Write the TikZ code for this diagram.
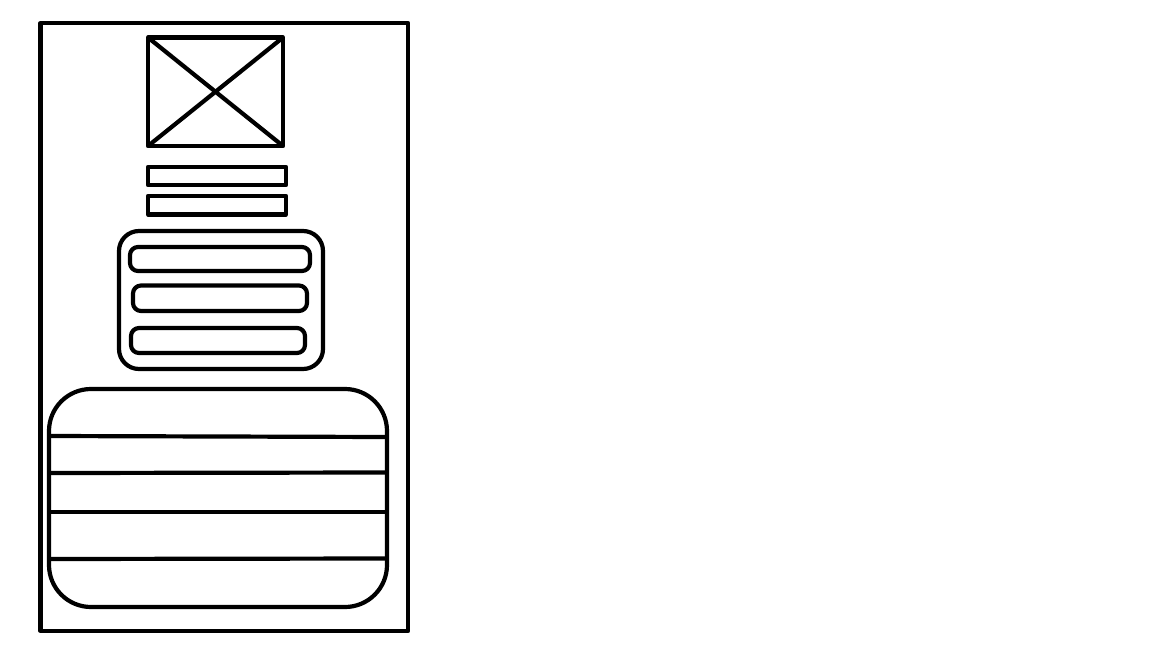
\documentclass[tikz,border=0pt]{standalone}
\begin{document}
\begin{tikzpicture}[x=1pt,y=-1pt,line width=4pt,
  sketch/.style={draw=black,line width=4.2pt,line join=round},
  pill/.style={sketch,rounded corners=8pt}]
\useasboundingbox (0,0) rectangle (1152,648);
% frame
\draw[sketch] (40.5,23) rectangle (408,631);
% image placeholder
\draw[sketch] (148,37.5) rectangle (283,146);
\draw[sketch] (148,37.5) -- (283,146);
\draw[sketch] (283,37.5) -- (148,146);
% text bars
\draw[sketch] (148,167) rectangle (286,185);
\draw[sketch] (148,196) rectangle (286,214.5);
% rounded group
\draw[sketch,rounded corners=20pt] (119,231) rectangle (323,369);
\draw[pill] (130,247) rectangle (310,271);
\draw[pill] (133,285.5) rectangle (307,311);
\draw[pill] (131,328) rectangle (305,353);
% big list
\draw[sketch,rounded corners=42pt] (49,389) rectangle (387,607);
\draw[sketch] (49,436) -- (388,437);
\draw[sketch] (49,473) -- (387,472.5);
\draw[sketch] (49,512) -- (387,512);
\draw[sketch] (49,559) -- (387,558.5);
\end{tikzpicture}
\end{document}
